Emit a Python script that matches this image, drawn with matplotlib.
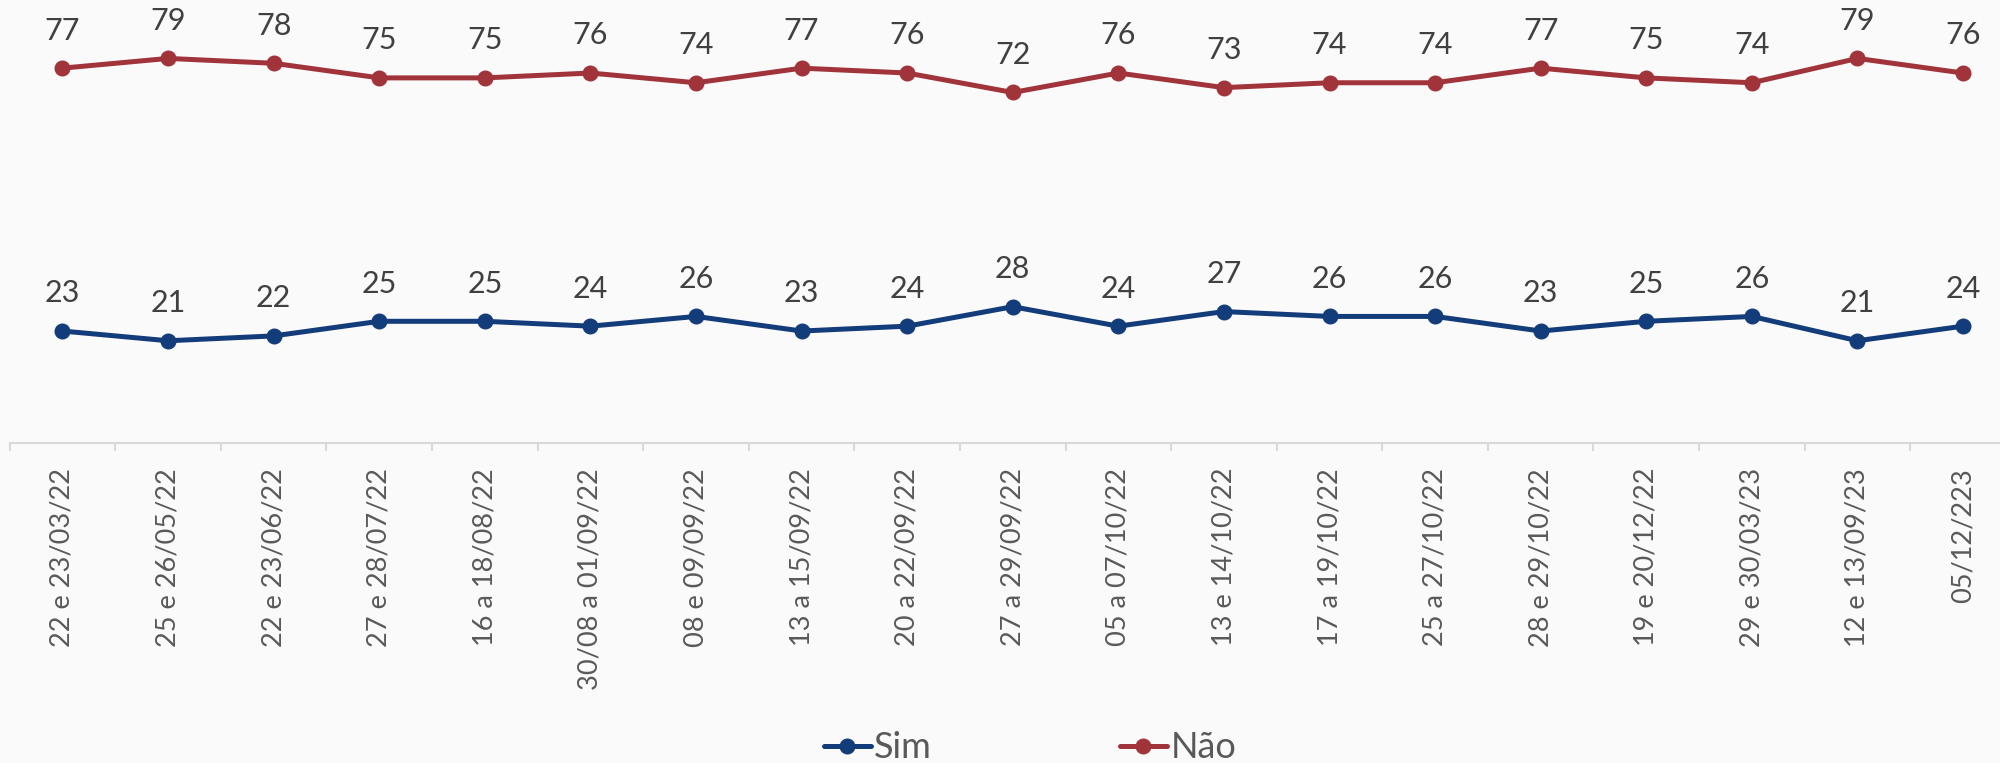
import matplotlib
matplotlib.use("Agg")
import matplotlib.pyplot as plt
import numpy as np

categories = ["22 e 23/03/22", "25 e 26/05/22", "22 e 23/06/22", "27 e 28/07/22",
              "16 a 18/08/22", "30/08 a 01/09/22", "08 e 09/09/22", "13 a 15/09/22",
              "20 a 22/09/22", "27 a 29/09/22", "05 a 07/10/22", "13 e 14/10/22",
              "17 a 19/10/22", "25 a 27/10/22", "28 e 29/10/22", "19 e 20/12/22",
              "29 e 30/03/23", "12 e 13/09/23", "05/12/223"]
sim = [23, 21, 22, 25, 25, 24, 26, 23, 24, 28, 24, 27, 26, 26, 23, 25, 26, 21, 24]
nao = [77, 79, 78, 75, 75, 76, 74, 77, 76, 72, 76, 73, 74, 74, 77, 75, 74, 79, 76]

BG = "#fafafa"
BLUE = "#133c7a"
RED = "#a1343a"
TXT = "#404040"
TICKC = "#595959"

plt.rcParams['font.family'] = ['Lato', 'DejaVu Sans']

W, H = 2000, 763
fig = plt.figure(figsize=(W / 100, H / 100), dpi=100, facecolor=BG)
ax = fig.add_axes([9.7 / W, (H - 443) / H, 1 - 9.7 / W, 443 / H])
ax.set_facecolor(BG)

x = np.arange(len(categories))
l1, = ax.plot(x, sim, color=BLUE, lw=3.6, marker='o', ms=10.5, label='Sim',
              solid_capstyle='round')
l2, = ax.plot(x, nao, color=RED, lw=3.6, marker='o', ms=10.5, label='Não',
              solid_capstyle='round')

for xi, v in zip(x, sim):
    ax.annotate(str(v), (xi, v), xytext=(0, 17), textcoords='offset points',
                ha='center', va='bottom', fontsize=22, color=TXT)
for xi, v in zip(x, nao):
    ax.annotate(str(v), (xi, v), xytext=(0, 17), textcoords='offset points',
                ha='center', va='bottom', fontsize=22, color=TXT)

ax.set_xlim(-0.5, 18.35)
ax.set_ylim(0, 91)
ax.set_yticks([])
for s in ['top', 'right', 'left']:
    ax.spines[s].set_visible(False)
ax.spines['bottom'].set_color('#d9d9d9')
ax.spines['bottom'].set_linewidth(1.5)

ax.set_xticks(x)
ax.set_xticklabels(categories, rotation=90, fontsize=19.5, color=TICKC, va='top', ha='center')
ax.tick_params(axis='x', which='major', length=0, pad=18)
ax.set_xticks(np.arange(-0.5, 18.5, 1.0), minor=True)
ax.tick_params(axis='x', which='minor', length=6, width=1.5, color='#d9d9d9')

fig.legend(handles=[l1, l2], loc='center', bbox_to_anchor=(1030 / W, 1 - 748 / H),
           ncol=2, frameon=False, fontsize=26, handlelength=1.3, handletextpad=0.1,
           columnspacing=5.2, labelcolor=TICKC)

fig.savefig("out.png", dpi=100, facecolor=BG)
